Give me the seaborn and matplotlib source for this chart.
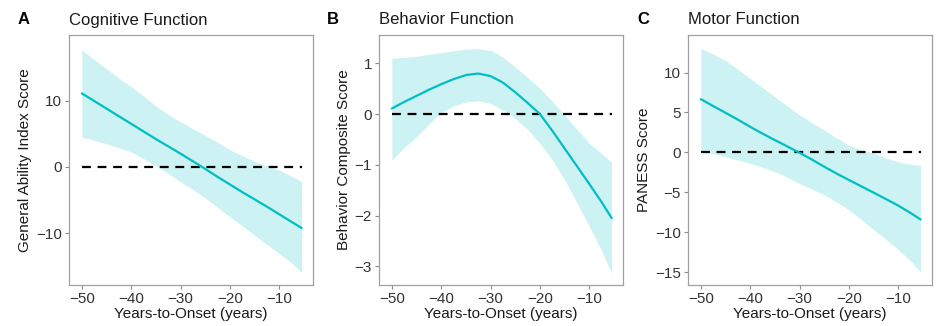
import numpy as np
import pandas as pd
import matplotlib
matplotlib.use("Agg")
import matplotlib.pyplot as plt
import seaborn as sns

# ---- data ----
years = [-50, -47.5, -45, -42.5, -40, -37.5, -35, -32.5, -30, -27.5,
         -25, -22.5, -20, -17.5, -15, -12.5, -10, -7.5, -5.5]

cog_fit = [11.1, 9.95, 8.8, 7.65, 6.5, 5.35, 4.2, 3.1, 2.0, 0.85,
           -0.3, -1.5, -2.65, -3.8, -4.9, -6.0, -7.15, -8.3, -9.2]
cog_upper = [17.65, 16.2, 14.8, 13.4, 12.1, 10.7, 9.2, 7.9, 6.8, 5.75,
             4.75, 3.7, 2.6, 1.7, 0.85, 0.15, -0.5, -1.4, -2.25]
cog_lower = [4.5, 4.0, 3.5, 2.9, 2.25, 1.25, 0.15, -1.0, -2.25, -3.4,
             -4.7, -6.1, -7.5, -8.9, -10.3, -11.7, -13.1, -14.5, -15.9]

beh_fit = [0.11, 0.24, 0.36, 0.48, 0.59, 0.69, 0.77, 0.80, 0.75, 0.62,
           0.43, 0.22, 0.0, -0.33, -0.68, -1.03, -1.38, -1.74, -2.05]
beh_upper = [1.10, 1.12, 1.14, 1.18, 1.21, 1.25, 1.28, 1.29, 1.26, 1.12,
             0.93, 0.72, 0.51, 0.25, -0.02, -0.30, -0.58, -0.78, -0.95]
beh_lower = [-0.91, -0.66, -0.45, -0.20, 0.03, 0.16, 0.24, 0.26, 0.21, 0.08,
             -0.09, -0.30, -0.58, -0.90, -1.30, -1.75, -2.22, -2.70, -3.14]

mot_fit = [6.67, 5.8, 4.96, 4.1, 3.2, 2.35, 1.54, 0.75, -0.05, -0.9,
           -1.8, -2.65, -3.46, -4.25, -5.04, -5.85, -6.67, -7.6, -8.4]
mot_upper = [13.0, 12.3, 11.5, 10.4, 9.25, 8.1, 6.95, 5.8, 4.7, 3.7,
             2.8, 1.8, 0.9, 0.35, -0.1, -0.7, -1.2, -1.5, -1.6]
mot_lower = [0.3, -0.15, -0.55, -0.95, -1.4, -1.85, -2.4, -3.1, -3.9, -4.6,
             -5.3, -6.2, -7.2, -8.4, -9.7, -10.9, -12.2, -13.6, -15.0]

panel_letters = ["A", "B", "C"]
titles = ["Cognitive Function", "Behavior Function", "Motor Function"]
ylabels = ["General Ability Index Score", "Behavior Composite Score", "PANESS Score"]
xlabel = "Years-to-Onset (years)"
xticks = [-50, -40, -30, -20, -10]
yticks_list = [[-10, 0, 10], [-3, -2, -1, 0, 1], [-15, -10, -5, 0, 5, 10]]

# ---- style ----
sns.set_theme(style="white")
plt.rcParams["font.family"] = ["Liberation Sans", "DejaVu Sans"]

LINE = "#00BFC4"
RIBBON = "#00BFC4"

fig = plt.figure(figsize=(9.45, 3.26), dpi=100)
W, H = 945, 326
lefts = [69, 379, 688]
ax_w = 244
top_px, bot_px = 35, 285
ylims = [(-17.8, 19.9), (-3.37, 1.56), (-16.6, 14.7)]
letter_x = [18, 327, 637]
XL = (-52.6, -3.2)

series = [
    (cog_fit, cog_upper, cog_lower),
    (beh_fit, beh_upper, beh_lower),
    (mot_fit, mot_upper, mot_lower),
]

def fmt(t):
    return ("\u2212" + str(abs(t))) if t < 0 else str(t)

for i, (fit, up, lo) in enumerate(series):
    ax = fig.add_axes([lefts[i] / W, 1 - bot_px / H, ax_w / W, (bot_px - top_px) / H])
    df = pd.DataFrame({"x": years, "fit": fit, "upper": up, "lower": lo})
    ax.fill_between(df["x"], df["lower"], df["upper"], color=RIBBON, alpha=0.2,
                    linewidth=0, zorder=1)
    sns.lineplot(data=df, x="x", y="fit", ax=ax, color=LINE, linewidth=1.6, zorder=3)
    span = XL[1] - XL[0]
    ax.axhline(0, xmin=(years[0] - XL[0]) / span, xmax=(years[-1] - XL[0]) / span,
               color="black", linestyle=(0, (4, 3)), linewidth=1.6, zorder=2)
    ax.set_xlim(*XL)
    ax.set_ylim(*ylims[i])
    ax.set_xticks(xticks)
    ax.set_xticklabels([fmt(t) for t in xticks])
    ax.set_yticks(yticks_list[i])
    ax.set_yticklabels([fmt(t) for t in yticks_list[i]])
    ax.set_xlabel(xlabel, fontsize=11, color="#1a1a1a", labelpad=1)
    ax.set_ylabel(ylabels[i], fontsize=11, color="#1a1a1a", labelpad=3)
    ax.tick_params(axis="both", which="major", length=3, width=0.8, color="#8c8c8c",
                   labelsize=11, labelcolor="#333333", pad=2, direction="out",
                   bottom=True, left=True)
    for s in ax.spines.values():
        s.set_color("#a0a0a0")
        s.set_linewidth(0.9)
    ax.grid(False)
    fig.text(lefts[i] / W, 1 - 20 / H, titles[i], fontsize=12, color="#1a1a1a",
             va="center", ha="left")
    fig.text(letter_x[i] / W, 1 - 20 / H, panel_letters[i], fontsize=12,
             fontweight="bold", color="black", va="center", ha="left")

fig.savefig("out.png", dpi=100, facecolor="white")
